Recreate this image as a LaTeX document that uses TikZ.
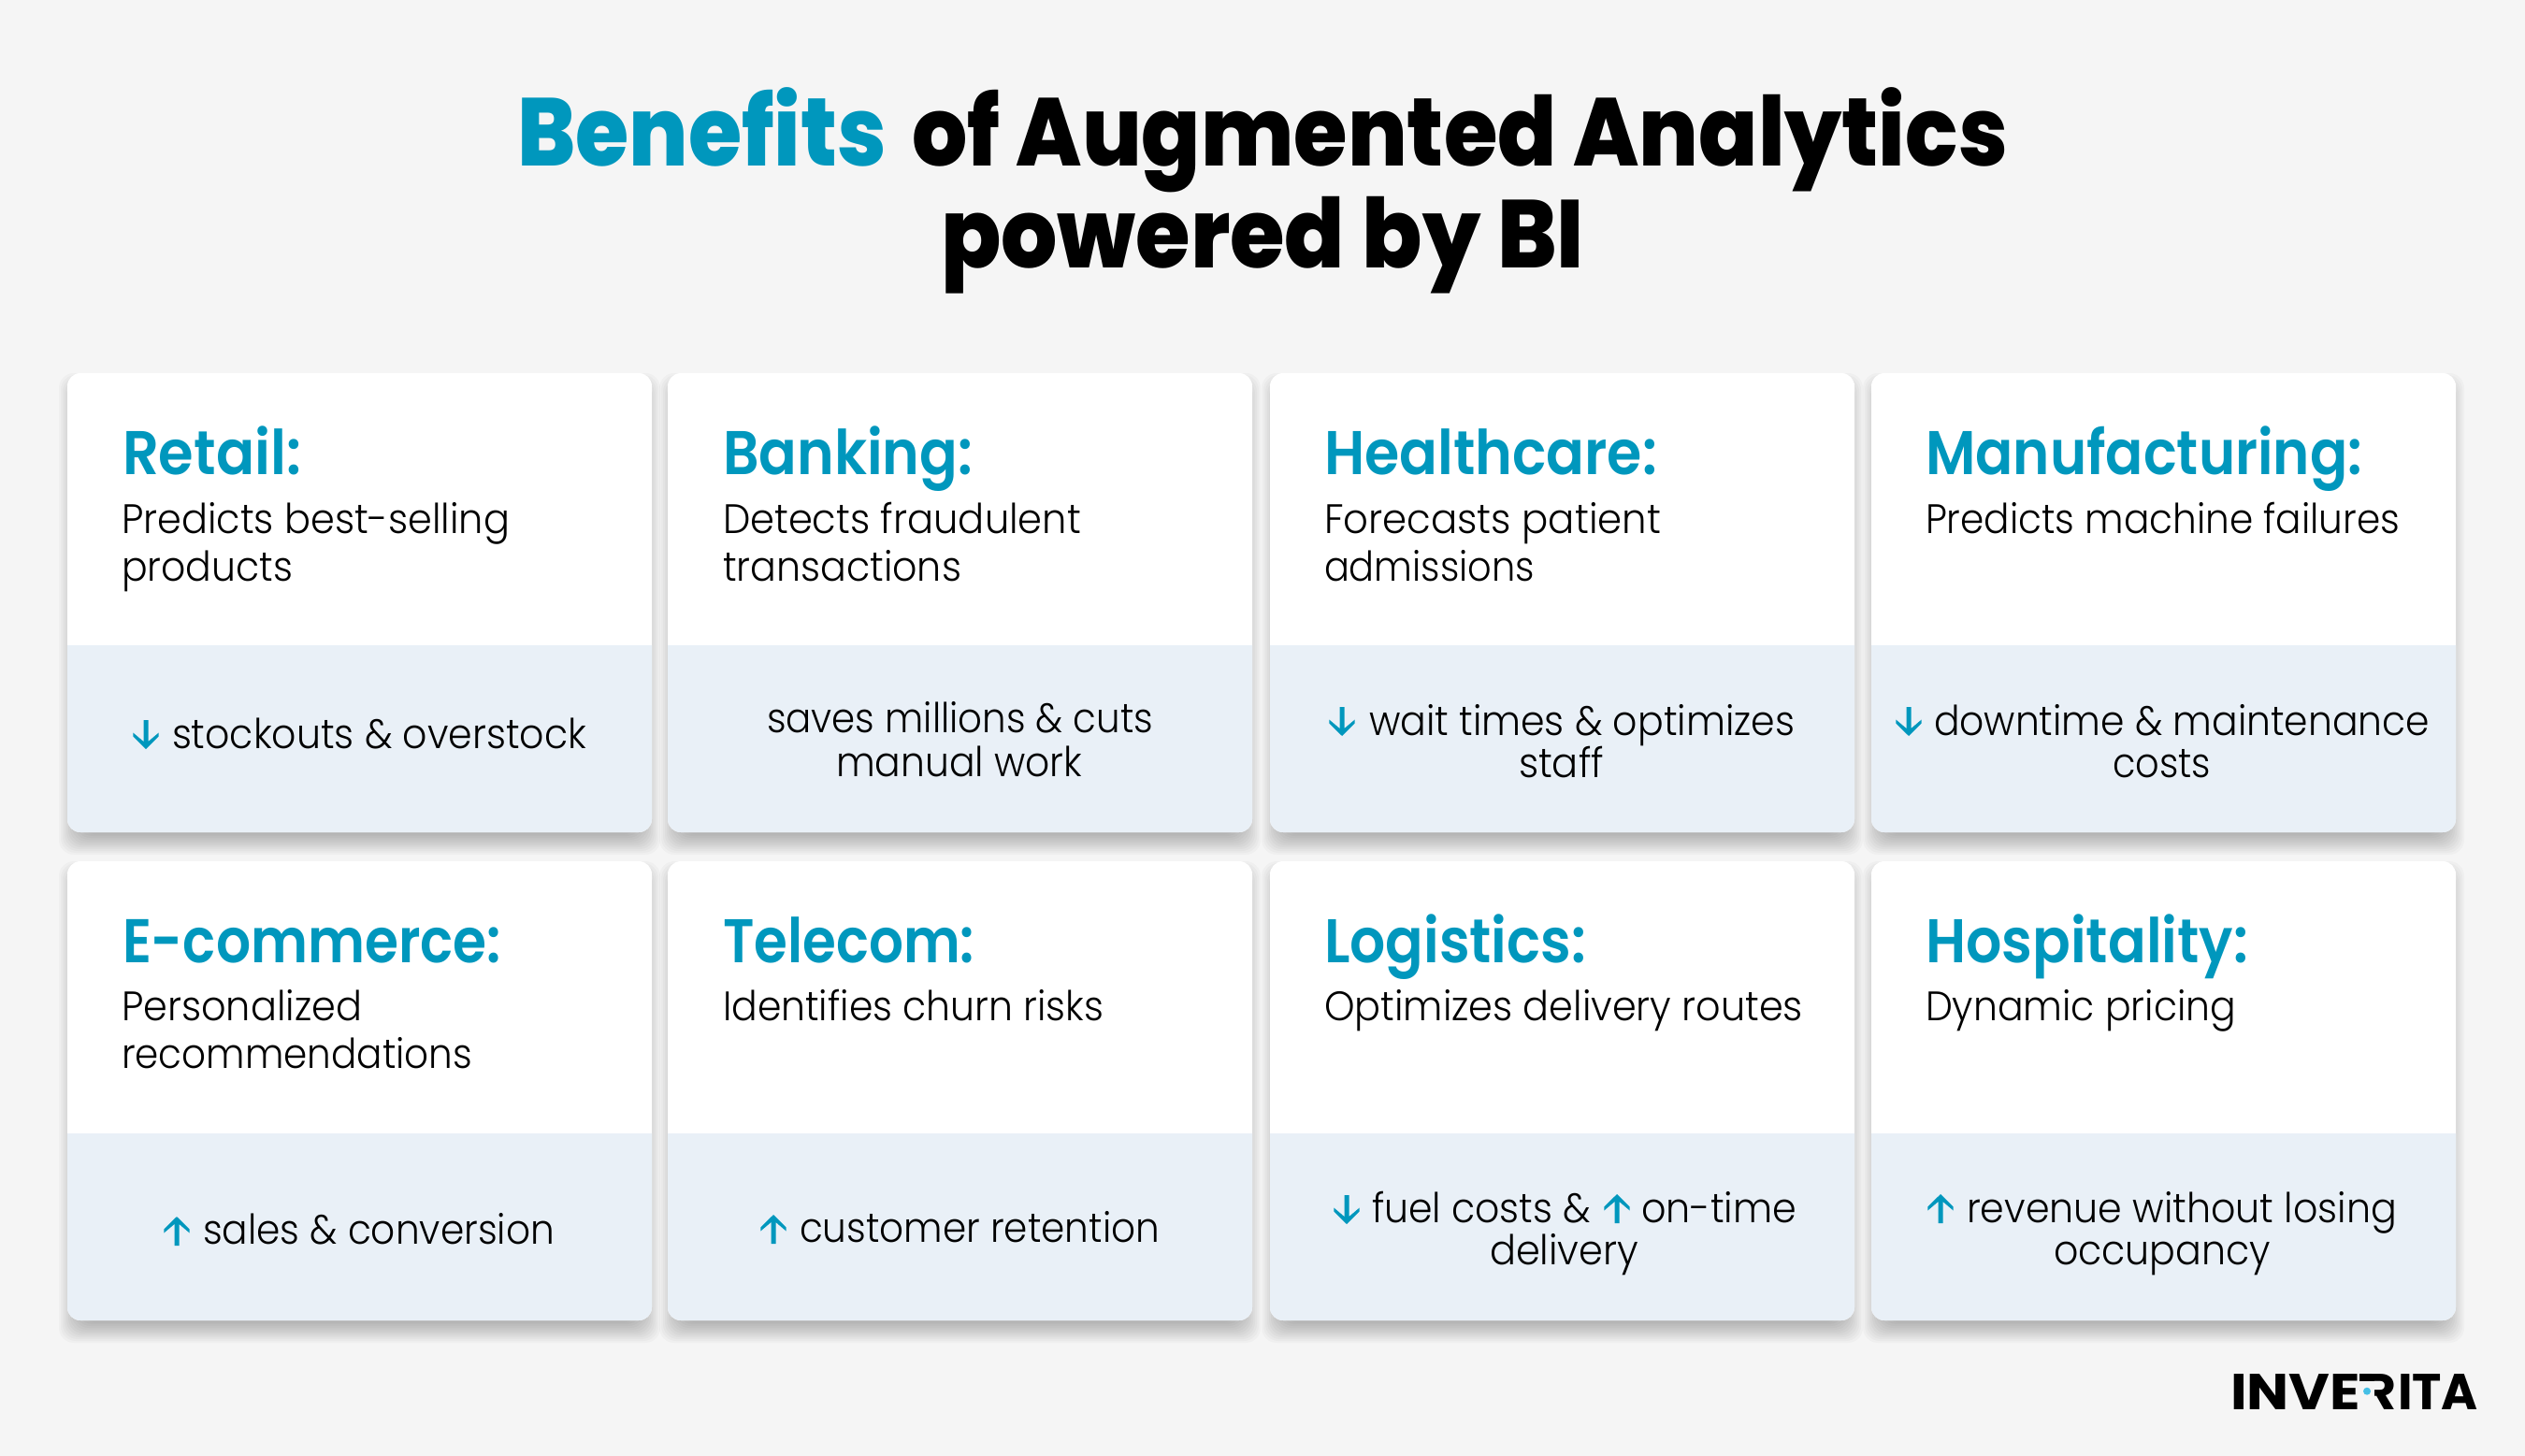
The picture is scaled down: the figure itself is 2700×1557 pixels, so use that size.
\documentclass[tikz,border=0pt]{standalone}
\usepackage{fontspec}
\usepackage{graphicx}
\setmainfont{Poppins}
\newfontfamily\fxbold{Poppins}[UprightFont=* ExtraBold]
\newfontfamily\fbold{Poppins}[UprightFont=* Bold]
\newfontfamily\fsemi{Poppins}[UprightFont=* SemiBold]
\newfontfamily\flight{Poppins}[UprightFont=* Light]
\definecolor{pagebg}{HTML}{F5F5F5}
\definecolor{teal}{HTML}{0097BD}
\definecolor{band}{HTML}{E9F0F7}
\definecolor{dot}{HTML}{45BFE5}
\tikzset{
  lbl/.style={inner sep=0pt,outer sep=0pt,anchor=base west},
  headline/.style={lbl,text=black,font=\fontsize{103}{103}\fxbold},
  cardhead/.style={lbl,text=teal,font=\fontsize{66}{66}\fsemi},
  bodytext/.style={lbl,text=black,font=\fontsize{44}{44}\flight},
  logotext/.style={lbl,text=black,font=\fontsize{54}{54}\fbold},
  cardround/.style={rounded corners=14pt}
}
% #1 name, #2 style, #3 x0, #4 x1, #5 baseline, #6 text
\newcommand\tx[6]{\node[#2] (#1) at (#3,#5) {\resizebox{\dimexpr #4pt-#3pt\relax}{\height}{#6}};}
% #1 name #2 x #3 top y
\newcommand\cardbox[3]{%
  \foreach \s in {12,10,8,6,4,2,0,-2,-4,-6,-8,-10,-12}{
    \fill[black,opacity=0.025,rounded corners=16pt] ({#2+3-\s},{#3+12-\s}) rectangle ({#2+622+\s},{#3+491+12+\s});
  }
  \fill[white,cardround] (#2,#3) rectangle ({#2+625},{#3+491});
  \begin{scope}
    \clip (#2,{#3+291}) rectangle ({#2+625},{#3+495});
    \fill[band,cardround] (#2,#3) rectangle ({#2+625},{#3+491});
  \end{scope}
  \coordinate (#1) at (#2,#3);
}
\newcommand\arrup[2]{% x, bottom y
  \fill[teal] (#1,{#2-31}) -- ({#1+13.7},{#2-17.5}) -- ({#1+13.7},{#2-13.5}) -- ({#1+2.5},{#2-23}) -- ({#1+2.5},#2) -- ({#1-2.5},#2) -- ({#1-2.5},{#2-23}) -- ({#1-13.7},{#2-13.5}) -- ({#1-13.7},{#2-17.5}) -- cycle;
}
\newcommand\arrdown[2]{% x, bottom y (tip)
  \fill[teal] (#1,#2) -- ({#1+13.7},{#2-13.5}) -- ({#1+13.7},{#2-17.5}) -- ({#1+2.5},{#2-8}) -- ({#1+2.5},{#2-31}) -- ({#1-2.5},{#2-31}) -- ({#1-2.5},{#2-8}) -- ({#1-13.7},{#2-17.5}) -- ({#1-13.7},{#2-13.5}) -- cycle;
}
\begin{document}
\begin{tikzpicture}[x=1pt,y=-1pt]
\useasboundingbox (0,0) rectangle (2700,1557);
\fill[pagebg] (0,0) rectangle (2700,1557);
\tx{t1}{headline,text=teal}{553}{948}{178}{Benefits}
\tx{t2}{headline}{975}{2147}{178}{of Augmented Analytics}
\tx{t3}{headline}{1006}{1694}{286}{powered by BI}

\cardbox{c1}{72}{399}\cardbox{c2}{714}{399}\cardbox{c3}{1358}{399}\cardbox{c4}{2001}{399}
\cardbox{c5}{72}{921}\cardbox{c6}{714}{921}\cardbox{c7}{1358}{921}\cardbox{c8}{2001}{921}

% row 1
\tx{h1}{cardhead}{131}{322}{507}{Retail:}
\tx{h2}{cardhead}{773}{1040}{507}{Banking:}
\tx{h3}{cardhead}{1416}{1772}{507}{Healthcare:}
\tx{h4}{cardhead}{2059}{2526}{507}{Manufacturing:}
\tx{b1a}{bodytext}{130}{545}{570.5}{Predicts best-selling}
\tx{b1b}{bodytext}{130}{313}{621.5}{products}
\tx{b2a}{bodytext}{773}{1156}{570.5}{Detects fraudulent}
\tx{b2b}{bodytext}{773}{1028}{621.5}{transactions}
\tx{b3a}{bodytext}{1416}{1776}{570.5}{Forecasts patient}
\tx{b3b}{bodytext}{1416}{1641}{621.5}{admissions}
\tx{b4a}{bodytext}{2059}{2566}{570.5}{Predicts machine failures}
\tx{f1}{bodytext}{184}{627}{800}{stockouts \& overstock}
\tx{f2a}{bodytext}{820}{1233}{783}{saves millions \& cuts}
\tx{f2b}{bodytext}{894}{1157}{830}{manual work}
\tx{f3a}{bodytext}{1464}{1919}{786}{wait times \& optimizes}
\tx{f3b}{bodytext}{1624}{1715}{831}{staff}
\tx{f4a}{bodytext}{2068}{2598}{786}{downtime \& maintenance}
\tx{f4b}{bodytext}{2259}{2364}{831}{costs}
\arrdown{156}{801}
\arrdown{1435}{787}
\arrdown{2041}{787}

% row 2
\tx{h5}{cardhead}{131}{536}{1029}{E-commerce:}
\tx{h6}{cardhead}{773}{1042}{1029}{Telecom:}
\tx{h7}{cardhead}{1416}{1696}{1029}{Logistics:}
\tx{h8}{cardhead}{2059}{2404}{1029}{Hospitality:}
\tx{b5a}{bodytext}{130}{387}{1091.5}{Personalized}
\tx{b5b}{bodytext}{130}{505}{1142.5}{recommendations}
\tx{b6a}{bodytext}{773}{1180}{1091.5}{Identifies churn risks}
\tx{b7a}{bodytext}{1416}{1928}{1091.5}{Optimizes delivery routes}
\tx{b8a}{bodytext}{2059}{2391}{1091.5}{Dynamic pricing}
\tx{f5}{bodytext}{217}{593}{1330}{sales \& conversion}
\tx{f6}{bodytext}{855}{1240}{1328}{customer retention}
\tx{f7a}{bodytext}{1467}{1701}{1307}{fuel costs \&}
\tx{f7b}{bodytext}{1755}{1921}{1307}{on-time}
\tx{f7c}{bodytext}{1593}{1752}{1352}{delivery}
\tx{f8a}{bodytext}{2103}{2563}{1307}{revenue without losing}
\tx{f8b}{bodytext}{2196}{2428}{1352}{occupancy}
\arrup{189}{1332}
\arrup{827}{1330}
\arrdown{1440}{1309}
\arrup{1729}{1308}
\arrup{2075}{1308}

% logo
\tx{l1}{logotext}{2385}{2524}{1507}{INVE}
\tx{l2}{logotext}{2526}{2562}{1507}{R}
\fill[pagebg] (2524,1477) rectangle (2539,1509);
\fill[black] (2523,1469) rectangle (2536,1477);
\tx{l3}{logotext}{2564}{2650}{1507}{ITA}
\fill[dot] (2531,1487.7) circle (4pt);
\end{tikzpicture}
\end{document}
